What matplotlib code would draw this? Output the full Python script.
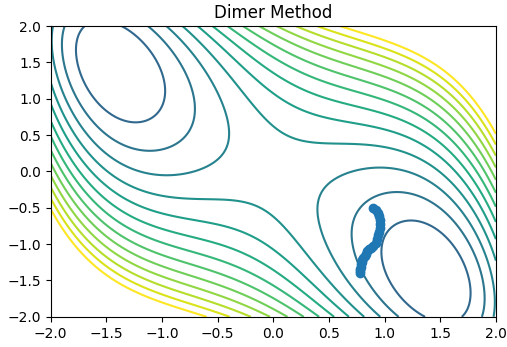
import numpy as np
import matplotlib.pyplot as plt

# potential surface: even quartic, coefficients for
# 1, x^2, xy, y^2, x^4, x^3 y, x^2 y^2, x y^3, y^4
coef = [2.54336, -1.45088, 3.14558, 1.14014, 0.74572, -0.04193, -0.06063, -0.01113, 0.10705]

# contour levels (only the upper ones fall inside the surface's range)
levels = list(range(-6, 13))

# dimer positions along the search
path_x = [0.90, 0.92, 0.94, 0.95, 0.96, 0.96, 0.955, 0.95, 0.94, 0.93, 0.92, 0.90, 0.88, 0.86, 0.84,
          0.83, 0.82, 0.81, 0.80, 0.795, 0.79, 0.785, 0.78, 0.78, 0.78]
path_y = [-0.50, -0.53, -0.57, -0.62, -0.67, -0.72, -0.78, -0.83, -0.88, -0.93, -0.98, -1.02, -1.05, -1.07, -1.10,
          -1.13, -1.16, -1.19, -1.22, -1.25, -1.28, -1.31, -1.34, -1.37, -1.40]


def potential(x, y):
    terms = [np.ones_like(x), x**2, x*y, y**2, x**4, x**3*y, x**2*y**2, x*y**3, y**4]
    return sum(c * t for c, t in zip(coef, terms))


xs = np.linspace(-2, 2, 300)
X, Y = np.meshgrid(xs, xs)
Z = potential(X, Y)

fig = plt.figure(figsize=(5.07, 3.47), dpi=100)
ax = fig.add_axes([0.1, 0.087, 0.878, 0.838])
ax.contour(X, Y, Z, levels=levels, cmap='viridis')
ax.scatter(path_x, path_y, s=36, color='#1f77b4', zorder=3)
ax.set_xlim(-2, 2)
ax.set_ylim(-2, 2)
ax.set_title('Dimer Method')
fig.savefig('out.png')
